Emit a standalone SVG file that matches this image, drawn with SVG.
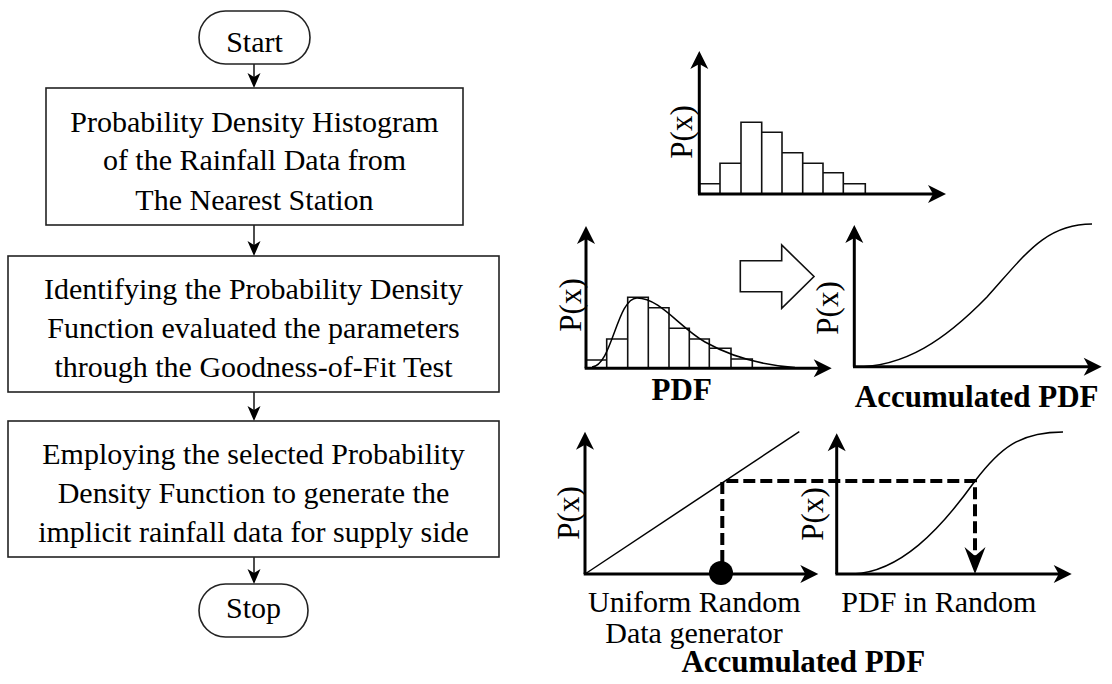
<svg xmlns="http://www.w3.org/2000/svg" width="1112" height="684" viewBox="0 0 1112 684">
<style>
text{font-family:"Liberation Serif","Times New Roman",serif;fill:#000}
.t{font-size:30px;text-anchor:middle}
.b{font-size:31px;font-weight:bold;text-anchor:middle}
.px{font-size:31px;text-anchor:middle}
.box{fill:#fff;stroke:#222;stroke-width:1.6}
.flow{fill:none;stroke:#000;stroke-width:1.4;marker-end:url(#fa)}
.axis{fill:none;stroke:#000;stroke-width:3;marker-end:url(#ah)}
.bar{fill:#fff;stroke:#111;stroke-width:1.6}
.curve{fill:none;stroke:#000;stroke-width:1.5}
.dash{fill:none;stroke:#000;stroke-width:4;stroke-dasharray:12 5}
</style>
<defs>
<marker id="ah" viewBox="-14 -10 22 20" markerWidth="22" markerHeight="20" refX="0" refY="0" orient="auto" markerUnits="userSpaceOnUse"><path d="M6,0 L-12,-9 L-7,0 L-12,9 Z" fill="#000"/></marker>
<marker id="fa" viewBox="-14 -8 18 16" markerWidth="18" markerHeight="16" refX="0" refY="0" orient="auto" markerUnits="userSpaceOnUse"><path d="M2,0 L-13,-6.5 L-9,0 L-13,6.5 Z" fill="#000"/></marker>
<marker id="da" viewBox="-26 -12 32 24" markerWidth="32" markerHeight="24" refX="0" refY="0" orient="auto" markerUnits="userSpaceOnUse"><path d="M4,0 L-23,-10.5 L-14,0 L-23,10.5 Z" fill="#000"/></marker>
</defs>
<rect width="1112" height="684" fill="#fff"/>

<g id="connectors">
<line class="flow" x1="254" y1="64" x2="254" y2="86"/>
<line class="flow" x1="254" y1="225" x2="254" y2="254"/>
<line class="flow" x1="254" y1="392" x2="254" y2="419"/>
<line class="flow" x1="254" y1="557" x2="254" y2="582"/>
</g>

<g id="start">
<rect class="box" x="199" y="11" width="111" height="53" rx="26.5"/>
<text class="t" x="254.5" y="51.5">Start</text>
</g>
<g id="step1">
<rect class="box" x="46" y="88" width="417" height="137"/>
<text class="t" x="254.5" y="132">Probability Density Histogram</text>
<text class="t" x="254.5" y="170">of the Rainfall Data from</text>
<text class="t" x="254.5" y="210">The Nearest Station</text>
</g>
<g id="step2">
<rect class="box" x="8" y="256" width="491" height="136"/>
<text class="t" x="253.5" y="299">Identifying the Probability Density</text>
<text class="t" x="253.5" y="338">Function evaluated the parameters</text>
<text class="t" x="253.5" y="377">through the Goodness-of-Fit Test</text>
</g>
<g id="step3">
<rect class="box" x="8" y="421" width="491" height="136"/>
<text class="t" x="253.5" y="464">Employing the selected Probability</text>
<text class="t" x="253.5" y="503">Density Function to generate the</text>
<text class="t" x="253.5" y="542">implicit rainfall data for supply side</text>
</g>
<g id="stop">
<rect class="box" x="199" y="584" width="109" height="53" rx="26.5"/>
<text class="t" x="253.5" y="618">Stop</text>
</g>

<g id="histogram">
<path class="bar" d="M699.3,194 V183.7 H720 V194 M720,194 V163.3 H741 V194 M741,194 V122.3 H761.7 V194 M761.7,194 V132.3 H782 V194 M782,194 V152.7 H802.7 V194 M802.7,194 V163.3 H823 V194 M823,194 V172.7 H843.3 V194 M843.3,194 V183.7 H865.3 V194"/>
<line class="axis" x1="699.3" y1="194" x2="699.3" y2="57"/>
<line class="axis" x1="698" y1="194" x2="940" y2="194"/>
<text class="px" transform="translate(691.5,132) rotate(-90)">P(x)</text>
</g>

<g id="pdf">
<path class="bar" d="M586,368.3 V360 H606.7 V368.3 M606.7,368.3 V339 H627.7 V368.3 M627.7,368.3 V297.3 H648.3 V368.3 M648.3,368.3 V307.7 H669 V368.3 M669,368.3 V328.3 H689.3 V368.3 M689.3,368.3 V339 H709.3 V368.3 M709.3,368.3 V348.3 H731 V368.3 M731,368.3 V359 H752.3 V368.3"/>
<path class="curve" d="M592,367 C612,366 617,298 637,298 C660,298 680,328 705,342 C730,356 760,365 795,367.5"/>
<line class="axis" x1="586" y1="368.3" x2="586" y2="232"/>
<line class="axis" x1="584.7" y1="368.3" x2="825.7" y2="368.3"/>
<text class="px" transform="translate(581,305) rotate(-90)">P(x)</text>
<text class="b" x="681.7" y="400">PDF</text>
</g>

<g id="transform-arrow">
<path d="M740.3,260.7 H781.7 V245 L814,276.5 L781.7,308.3 V291.7 H740.3 Z" fill="#fff" stroke="#111" stroke-width="1.6"/>
</g>

<g id="accumulated">
<path class="curve" d="M855,367 C905,367 945,340 987,297 C1025,255 1045,224 1092,224"/>
<line class="axis" x1="854.3" y1="366.7" x2="854.3" y2="231"/>
<line class="axis" x1="853" y1="366.7" x2="1095.7" y2="366.7"/>
<text class="px" transform="translate(838,308) rotate(-90)">P(x)</text>
<text class="b" x="976.7" y="406.7">Accumulated PDF</text>
</g>

<g id="uniform">
<line class="curve" x1="585" y1="574" x2="799.3" y2="431.7"/>
<line class="axis" x1="585" y1="574" x2="585" y2="437.7"/>
<line class="axis" x1="583.7" y1="574" x2="812.3" y2="574"/>
<text class="px" transform="translate(579,513) rotate(-90)">P(x)</text>
<text class="t" x="694.3" y="611.7">Uniform Random</text>
<text class="t" x="694" y="643.3">Data generator</text>
</g>

<g id="random-pdf">
<path class="curve" d="M853,574 C900,572 940,530 975,481 C1000,448 1020,432 1063,432"/>
<line class="axis" x1="836.7" y1="574" x2="836.7" y2="439.3"/>
<line class="axis" x1="835.4" y1="574" x2="1065.7" y2="574"/>
<text class="px" transform="translate(823,514) rotate(-90)">P(x)</text>
<text class="t" x="938.8" y="611.7">PDF in Random</text>
</g>

<g id="sampling">
<path class="dash" d="M722.3,562 V481 H975 V570" marker-end="url(#da)"/>
<circle cx="721" cy="573" r="12" fill="#000"/>
</g>

<text class="b" x="803.3" y="671.7">Accumulated PDF</text>
</svg>
